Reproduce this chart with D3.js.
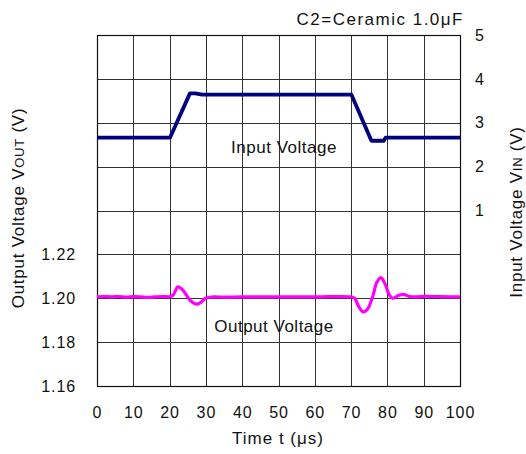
<!DOCTYPE html>
<html><head><meta charset="utf-8">
<script src="https://cdn.jsdelivr.net/npm/d3@7"></script>
<style>body{margin:0;background:#fff}svg{display:block}text{font-family:"Liberation Sans",Arial,sans-serif;fill:#111}</style>
</head><body><svg id="c" width="526" height="454"></svg>
<script>
const xTicks = [0,10,20,30,40,50,60,70,80,90,100];
const leftTicks = [1.16,1.18,1.20,1.22];
const rightTicks = [1,2,3,4,5];
const inputT = [0,20.1,25.6,27,29,70.1,75.6,79,79.5,100];
const inputV = [2.66,2.66,3.67,3.67,3.64,3.64,2.59,2.59,2.66,2.66];
const outT = [0,2,4,6,8,10,12,14,16,18,20,21,22.3,23.5,25,26,27.4,28.5,30,32,35,40,50,60,70,71,72,73.3,74.5,76,77,78.2,79.5,80.5,81.5,83,84.5,86,88,90,92,95,100];
const outV = [1.2006,1.2008,1.2006,1.2008,1.2005,1.2007,1.2006,1.2004,1.2006,1.2008,1.2007,1.2015,1.2052,1.2040,1.2005,1.1985,1.1973,1.1980,1.2001,1.2006,1.2005,1.2006,1.2006,1.2006,1.2006,1.2000,1.1965,1.1938,1.1950,1.2010,1.2070,1.2094,1.2060,1.2015,1.2000,1.2012,1.2018,1.2008,1.2006,1.2009,1.2008,1.2007,1.2006];

const svg = d3.select("#c");
const L=97,R=460,T=35,B=386;
const x = d3.scaleLinear().domain([0,100]).range([L,R]);
const yL = d3.scaleLinear().domain([1.16,1.32]).range([B,T]);
const yR = d3.scaleLinear().domain([-3,5]).range([B,T]);

// grid
const g = svg.append("g");
g.selectAll("line.v").data(xTicks).join("line")
 .attr("x1",d=>Math.round(x(d))+0.5).attr("x2",d=>Math.round(x(d))+0.5).attr("y1",T).attr("y2",B)
 .attr("stroke","#333").attr("stroke-width",1);
g.selectAll("line.h").data(d3.range(-3,6,1)).join("line")
 .attr("y1",d=>Math.round(yR(d))+0.5).attr("y2",d=>Math.round(yR(d))+0.5).attr("x1",L).attr("x2",R)
 .attr("stroke","#333").attr("stroke-width",1);
svg.append("rect").attr("x",L+0.5).attr("y",T+0.5).attr("width",R-L).attr("height",B-T)
 .attr("fill","none").attr("stroke","#111").attr("stroke-width",1.2);

// axes
const ax = svg.append("g").attr("transform",`translate(0,${B+18})`)
 .call(d3.axisBottom(x).tickValues(xTicks).tickSize(0).tickFormat(d3.format("d")));
const al = svg.append("g").attr("transform",`translate(${L-10},0)`)
 .call(d3.axisLeft(yL).tickValues(leftTicks).tickSize(0).tickFormat(d3.format(".2f")));
const ar = svg.append("g").attr("transform",`translate(${R+15},0)`)
 .call(d3.axisRight(yR).tickValues(rightTicks).tickSize(0).tickFormat(d3.format("d")));
[ax,al,ar].forEach(a=>{a.select(".domain").remove();a.selectAll("text").attr("font-size",16).attr("letter-spacing","0.9px").attr("fill","#111").attr("font-family","Liberation Sans, Arial, sans-serif");});
al.selectAll("text").attr("x",-11);
ar.selectAll("text").attr("x",0);

// lines
const lineIn = d3.line().x((d,i)=>x(inputT[i])).y(d=>yR(d));
svg.append("path").attr("d",lineIn(inputV)).attr("fill","none").attr("stroke","#00007f").attr("stroke-width",3.8).attr("stroke-linejoin","round");
const lineOut = d3.line().x((d,i)=>x(outT[i])).y(d=>yL(d)).curve(d3.curveCatmullRom);
svg.append("path").attr("d",lineOut(outV)).attr("fill","none").attr("stroke","#ff00ff").attr("stroke-width",3.2).attr("stroke-linejoin","round");

// labels
function lab(xp,yp,txt,anchor,ls){
  return svg.append("text").attr("x",xp).attr("y",yp).attr("text-anchor",anchor).attr("font-size",17).attr("letter-spacing",ls+"px").text(txt);
}
lab(284,153,"Input Voltage","middle",0.5);
lab(274,332,"Output Voltage","middle",0.5);
lab(464,25,"C2=Ceramic 1.0μF","end",1.5);
lab(278,444,"Time t (μs)","middle",1.0);
const lt = svg.append("text").attr("transform","translate(24,208) rotate(-90)").attr("text-anchor","middle").attr("font-size",17).attr("letter-spacing","0.75px");
lt.append("tspan").text("Output Voltage V");
lt.append("tspan").attr("font-size",13).text("OUT");
lt.append("tspan").text(" (V)");
const rt = svg.append("text").attr("transform","translate(522,212) rotate(-90)").attr("text-anchor","middle").attr("font-size",17).attr("letter-spacing","0.75px");
rt.append("tspan").text("Input Voltage V");
rt.append("tspan").attr("font-size",13).text("IN");
rt.append("tspan").text(" (V)");
</script></body></html>
